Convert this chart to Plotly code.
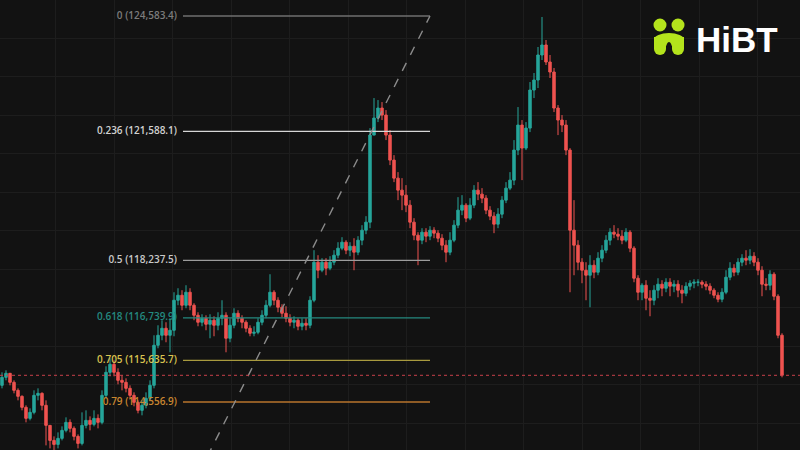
import plotly.graph_objects as go

# ---------------- data ----------------
candle_index = list(range(196))

first_open = 114990
closes = [
    115198, 115302, 115068, 114860, 114704, 114418, 114132, 114288, 114730, 114782,
    114470, 113950, 113560, 113456, 113612, 113820, 114028, 113872, 113664, 113482,
    113950, 114080, 113976, 114132, 114028, 114730, 115328, 115536, 115328, 115120,
    115068, 114912, 114730, 114548, 114340, 114470, 114652, 114990, 116030, 116290,
    116472, 116290, 116420, 117200, 117330, 117070, 117408, 117070, 116810, 116628,
    116732, 116576, 116680, 116550, 116732, 116810, 116212, 116550, 116862, 116732,
    116628, 116472, 116342, 116368, 116628, 116810, 117070, 117408, 117200, 117018,
    116862, 116732, 116628, 116680, 116524, 116602, 116550, 117200, 118188, 117980,
    118188, 118032, 118188, 118370, 118552, 118708, 118500, 118604, 118448, 118760,
    119020, 119228, 121490, 121932, 122192, 122010, 121490, 120840, 120372, 120060,
    119930, 119670, 119228, 118890, 118760, 118968, 118864, 119020, 118942, 118812,
    118630, 118448, 118760, 119150, 119540, 119670, 119332, 119670, 120060, 119956,
    119852, 119540, 119384, 119176, 119436, 119800, 120112, 120320, 121100, 121750,
    121152, 121672, 122660, 122920, 123570, 123830, 123388, 123128, 122192, 121880,
    121750, 121100, 119020, 118630, 118188, 117980, 117850, 118110, 117928, 118292,
    118500, 118760, 118968, 118916, 118864, 118760, 118968, 118552, 117772, 117408,
    117590, 117252, 117200, 117460, 117616, 117512, 117668, 117564, 117616, 117460,
    117382, 117564, 117642, 117668, 117668, 117616, 117564, 117460, 117330, 117226,
    117408, 117798, 118032, 117928, 118188, 118292, 118240, 118344, 118188, 117980,
    117616, 117590, 117876, 117304, 116290, 115250,
]
highs = [
    115328, 115380, 115276, 115120, 114912, 114730, 114470, 114392, 114860, 114912,
    114808, 114600, 113950, 113664, 113768, 113924, 114158, 114106, 113924, 113716,
    114288, 114340, 114184, 114340, 114236, 114860, 115484, 115692, 115640, 115432,
    115250, 115172, 114990, 114808, 114600, 114600, 114808, 115120, 116290, 116550,
    116680, 116628, 116732, 117408, 117512, 117460, 117590, 117512, 117122, 116888,
    116836, 116810, 116836, 116784, 116888, 117200, 116888, 116732, 116992, 116940,
    116810, 116680, 116550, 116524, 116732, 116940, 117200, 117876, 117460, 117278,
    117096, 117044, 116836, 116784, 116732, 116732, 116732, 117304, 118500, 118370,
    118292, 118292, 118344, 118500, 118708, 118838, 118760, 118708, 118812, 118864,
    119150, 119384, 121672, 122452, 122400, 122348, 122140, 121620, 120970, 120528,
    120372, 120190, 119800, 119332, 118968, 119072, 119072, 119124, 119098, 119020,
    118916, 118760, 118968, 119280, 119878, 119930, 119722, 119852, 120190, 120268,
    120112, 119930, 119644, 119488, 119592, 119904, 120268, 120528, 121360, 122218,
    121880, 121828, 122868, 123102, 123778, 124558, 123960, 123570, 123232, 122270,
    122010, 121880, 121152, 119800, 118760, 118292, 118188, 118370, 118240, 118448,
    118630, 118890, 119072, 119150, 119072, 119020, 119072, 119020, 118604, 117850,
    117642, 117720, 117460, 117590, 117772, 117720, 117772, 117772, 117720, 117720,
    117590, 117668, 117720, 117746, 117746, 117720, 117694, 117642, 117512, 117408,
    117512, 117980, 118188, 118136, 118292, 118396, 118500, 118526, 118448, 118292,
    118084, 117772, 117980, 117928, 117356, 116342,
]
lows = [
    114912, 115120, 114990, 114782, 114600, 114340, 114028, 114080, 114236, 114600,
    114340, 113430, 113352, 113300, 113352, 113560, 113768, 113768, 113560, 113352,
    113430, 113872, 113820, 113924, 113872, 113976, 114652, 115224, 115224, 115016,
    114860, 114808, 114652, 114444, 114262, 114210, 114392, 114600, 114912, 115952,
    116160, 116108, 115848, 116264, 117070, 116940, 116992, 116940, 116680, 116524,
    116524, 116420, 116212, 116264, 116420, 116550, 115848, 116108, 116472, 116628,
    116472, 116368, 116264, 116264, 116316, 116550, 116732, 117018, 117070, 116888,
    116758, 116628, 116524, 116472, 116420, 116420, 116420, 116472, 117148, 117772,
    117928, 117850, 117980, 118110, 118292, 118500, 118396, 118344, 117980, 118370,
    118630, 118916, 119072, 121568, 121828, 121880, 121360, 120710, 120268, 119800,
    119540, 119488, 119072, 118760, 118110, 118656, 118708, 118760, 118812, 118708,
    118500, 118188, 118370, 118708, 119072, 119410, 119228, 119280, 119592, 119800,
    119722, 119436, 119280, 118942, 119072, 119332, 119722, 120060, 120190, 120970,
    120320, 121100, 121568, 122452, 122712, 123440, 123310, 122972, 122088, 121490,
    121568, 120970, 117408, 117850, 117980, 117642, 117200, 117018, 117772, 117850,
    118188, 118422, 118630, 118812, 118760, 118656, 118708, 118448, 117668, 117200,
    117200, 116940, 116784, 117070, 117252, 117304, 117408, 117304, 117408, 117278,
    117122, 117304, 117460, 117512, 117564, 117512, 117460, 117356, 117252, 117148,
    117148, 117356, 117720, 117824, 117850, 118084, 118110, 118136, 118084, 117850,
    117304, 117460, 117460, 117200, 116212, 115198,
]
opens = [first_open] + closes[:-1]

last_price = 115250

# Fibonacci retracement drawing
fib_start_index = 45.25
fib_end_index = 107
fib_low = 111891.4
fib_high = 124583.4
fib_levels = ["0", "0.236", "0.5", "0.618", "0.705", "0.79"]
fib_prices = [124583.4, 121588.1, 118237.5, 116739.9, 115635.7, 114556.9]
fib_price_labels = ["124,583.4", "121,588.1", "118,237.5", "116,739.9", "115,635.7", "114,556.9"]
fib_line_colors = ["#6f6f6f", "#d6d6d6", "#9d9d9d", "#24897f", "#a89a3e", "#b8742c"]
fib_text_colors = ["#7c7c7c", "#d2d2d2", "#c9c9c9", "#248a80", "#d9c350", "#c98630"]

UP = "#26a69a"
DOWN = "#ef5350"
BG = "#121212"
GRID = "#1d1d1d"

fig = go.Figure()

# Fib level lines and labels (drawn under candles)
for lvl, price, plabel, lc, tc in zip(fib_levels, fib_prices, fib_price_labels,
                                        fib_line_colors, fib_text_colors):
    fig.add_trace(go.Scatter(
        x=[fib_start_index, fib_end_index], y=[price, price], mode="lines",
        line=dict(color=lc, width=1.3), hoverinfo="skip", showlegend=False))
    fig.add_trace(go.Scatter(
        x=[fib_start_index - 1.5], y=[price], mode="text",
        text=[f"{lvl} ({plabel})"], textposition="middle left",
        textfont=dict(family="Open Sans", size=10, color=tc, weight=600),
        hoverinfo="skip", showlegend=False))

# Dashed trend line of the fib tool
fig.add_trace(go.Scatter(
    x=[fib_start_index, fib_end_index], y=[fib_low, fib_high], mode="lines",
    line=dict(color="#8c8c8c", width=1.4, dash="dash"),
    hoverinfo="skip", showlegend=False))

# Candles
fig.add_trace(go.Candlestick(
    x=candle_index, open=opens, high=highs, low=lows, close=closes,
    increasing=dict(line=dict(color=UP, width=1), fillcolor=UP),
    decreasing=dict(line=dict(color=DOWN, width=1), fillcolor=DOWN),
    whiskerwidth=0, showlegend=False, hoverinfo="skip"))

# Last price dotted line
fig.add_trace(go.Scatter(
    x=[-0.5, 199.5], y=[last_price, last_price], mode="lines",
    line=dict(color="#c8404a", width=1, dash="dot"),
    hoverinfo="skip", showlegend=False))

# HiBT logo (icon shapes + wordmark)
LIME = "#b4e31c"
def px(x):
    return x / 800
def py(y):
    return 1 - y / 450

shapes = []
for cx in (660, 678):
    shapes.append(dict(type="circle", xref="paper", yref="paper",
                       x0=px(cx - 6.5), x1=px(cx + 6.5), y0=py(31.5), y1=py(18.5),
                       fillcolor=LIME, line=dict(width=0), layer="above"))
    shapes.append(dict(type="rect", xref="paper", yref="paper",
                       x0=px(cx - 6), x1=px(cx + 6), y0=py(49), y1=py(37),
                       fillcolor=LIME, line=dict(width=0), layer="above"))
    shapes.append(dict(type="circle", xref="paper", yref="paper",
                       x0=px(cx - 6), x1=px(cx + 6), y0=py(55), y1=py(43),
                       fillcolor=LIME, line=dict(width=0), layer="above"))
shapes.append(dict(type="circle", xref="paper", yref="paper",
                   x0=px(654), x1=px(684), y0=py(46), y1=py(33),
                   fillcolor=LIME, line=dict(width=0), layer="above"))
shapes.append(dict(type="circle", xref="paper", yref="paper",
                   x0=px(666), x1=px(672), y0=py(56), y1=py(42),
                   fillcolor=BG, line=dict(width=0), layer="above"))

fig.update_layout(
    width=800, height=450,
    margin=dict(l=0, r=0, t=0, b=0),
    paper_bgcolor=BG, plot_bgcolor=BG,
    showlegend=False,
    boxgap=0.12,
    shapes=shapes,
    annotations=[dict(
        x=px(694), y=py(39), xref="paper", yref="paper",
        xanchor="left", yanchor="middle", showarrow=False,
        text="<b>HiBT</b>",
        font=dict(family="Liberation Sans", size=35, color="#ffffff"))],
    xaxis=dict(range=[-0.5, 199.5], showticklabels=False, showgrid=True,
               gridcolor=GRID, gridwidth=1, tick0=13.375, dtick=14.625,
               zeroline=False, rangeslider=dict(visible=False), fixedrange=True),
    yaxis=dict(range=[113310, 124999], showticklabels=False, showgrid=True,
               gridcolor=GRID, gridwidth=1, tick0=0, dtick=1000,
               zeroline=False, fixedrange=True),
)

fig.write_html(
    "out.html",
    config={"displayModeBar": False},
    post_script="document.body.style.margin='0';document.body.style.background='#121212';",
)
